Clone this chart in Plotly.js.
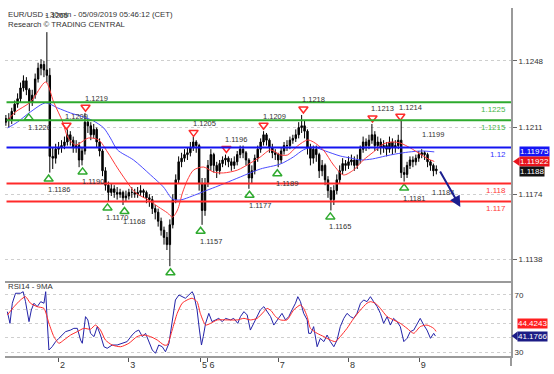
<!DOCTYPE html>
<html><head><meta charset="utf-8">
<script src="https://cdn.plot.ly/plotly-3.0.1.min.js"></script>
<style>html,body{margin:0;padding:0;background:#fff}#chart{width:554px;height:374px}</style>
</head><body><div id="chart"></div>
<script>
// hour index: 0 = 2 May 00:00 (CET), weekend compressed
const barT = [-18,-17,-16,-15,-14,-13,-12,-11,-10,-9,-8,-7,-6,-5,-4,-3,-2,-1,0,1,
2,3,4,5,6,7,8,9,10,11,12,13,14,15,16,17,18,19,20,21,22,23,24,25,26,27,28,29,30,31,
32,33,34,35,36,37,38,39,40,41,42,43,44,45,46,47,48,49,50,51,52,53,54,55,56,57,58,59,60,61,
62,63,64,65,66,67,68,69,70,71,72,73,74,75,76,77,78,79,80,81,82,83,84,85,86,87,88,89,90,91,
92,93,94,95,96,97,98,99,100,101,102,103,104,105,106,107,108,109,110,111,
112,113,114,115,116,117,118,119,120,121,122,123,124,125,126,127,128,129];
const openP = [1.1214,1.1216,1.1215,1.1220,1.1224,1.1227,1.1233,1.1237,1.1232,1.1225,
1.1229,1.1238,1.1244,1.1246,1.1243,1.1240,1.1195,1.1194,1.1199,1.1200,
1.1201,1.1203,1.1207,1.1204,1.1200,1.1201,1.1193,1.1198,1.1214,1.1212,
1.1207,1.1210,1.1203,1.1198,1.1187,1.1179,1.1175,1.1177,1.1175,1.1174,
1.1175,1.1172,1.1173,1.1175,1.1175,1.1174,1.1175,1.1176,1.1175,1.1172,
1.1171,1.1166,1.1164,1.1159,1.1154,1.1150,1.1146,1.1157,1.1171,1.1182,
1.1192,1.1194,1.1196,1.1197,1.1200,1.1203,1.1201,1.1180,1.1165,1.1180,
1.1190,1.1196,1.1190,1.1187,1.1191,1.1193,1.1194,1.1192,1.1190,1.1192,
1.1196,1.1199,1.1197,1.1193,1.1183,1.1187,1.1194,1.1199,1.1203,1.1207,
1.1204,1.1200,1.1197,1.1196,1.1193,1.1198,1.1201,1.1201,1.1204,1.1205,
1.1207,1.1211,1.1212,1.1209,1.1200,1.1194,1.1199,1.1196,1.1187,1.1190,
1.1182,1.1176,1.1171,1.1176,1.1182,1.1187,1.1191,1.1190,1.1192,1.1193,
1.1190,1.1193,1.1199,1.1203,1.1201,1.1204,1.1207,1.1201,1.1203,1.1200,
1.1201,1.1199,1.1203,1.1200,1.1201,1.1204,1.1186,1.1185,1.1190,1.1193,
1.1192,1.1194,1.1196,1.1197,1.1196,1.1192,1.1190,1.1187];
const highP = [1.1218,1.1219,1.1222,1.1226,1.1230,1.1236,1.1240,1.1239,1.1233,1.1232,
1.1241,1.1247,1.1249,1.1248,1.1264,1.1244,1.1200,1.1202,1.1203,1.1204,
1.1206,1.1210,1.1209,1.1206,1.1204,1.1203,1.1200,1.1219,1.1216,1.1214,
1.1213,1.1211,1.1205,1.1199,1.1189,1.1181,1.1180,1.1179,1.1178,1.1177,
1.1176,1.1176,1.1177,1.1178,1.1177,1.1178,1.1179,1.1177,1.1176,1.1174,
1.1173,1.1168,1.1166,1.1161,1.1156,1.1153,1.1160,1.1174,1.1185,1.1195,
1.1197,1.1199,1.1200,1.1203,1.1206,1.1204,1.1202,1.1183,1.1183,1.1193,
1.1199,1.1197,1.1192,1.1193,1.1195,1.1196,1.1195,1.1194,1.1195,1.1198,
1.1201,1.1201,1.1198,1.1194,1.1190,1.1196,1.1201,1.1205,1.1209,1.1208,
1.1205,1.1202,1.1199,1.1197,1.1200,1.1203,1.1204,1.1206,1.1207,1.1210,
1.1214,1.1218,1.1215,1.1210,1.1202,1.1201,1.1201,1.1197,1.1193,1.1191,
1.1184,1.1178,1.1179,1.1185,1.1190,1.1194,1.1193,1.1195,1.1196,1.1195,
1.1196,1.1201,1.1206,1.1205,1.1207,1.1213,1.1209,1.1206,1.1205,1.1204,
1.1203,1.1206,1.1205,1.1204,1.1207,1.1215,1.1189,1.1192,1.1195,1.1195,
1.1196,1.1198,1.1199,1.1198,1.1197,1.1193,1.1191,1.1190];
const lowP = [1.1212,1.1211,1.1213,1.1218,1.1222,1.1225,1.1231,1.1229,1.1220,1.1223,
1.1227,1.1236,1.1240,1.1239,1.1236,1.1186,1.1188,1.1191,1.1196,1.1197,
1.1199,1.1201,1.1201,1.1197,1.1197,1.1189,1.1190,1.1196,1.1208,1.1204,
1.1205,1.1200,1.1195,1.1184,1.1176,1.1170,1.1173,1.1172,1.1171,1.1172,
1.1168,1.1170,1.1171,1.1172,1.1172,1.1172,1.1173,1.1172,1.1169,1.1167,
1.1163,1.1160,1.1156,1.1151,1.1146,1.1143,1.1134,1.1155,1.1169,1.1180,
1.1189,1.1192,1.1193,1.1195,1.1198,1.1197,1.1176,1.1157,1.1162,1.1178,
1.1187,1.1186,1.1183,1.1185,1.1189,1.1190,1.1189,1.1187,1.1188,1.1190,
1.1194,1.1194,1.1190,1.1177,1.1180,1.1185,1.1192,1.1197,1.1201,1.1201,
1.1197,1.1194,1.1193,1.1189,1.1191,1.1196,1.1198,1.1199,1.1202,1.1203,
1.1205,1.1208,1.1205,1.1196,1.1190,1.1191,1.1192,1.1183,1.1184,1.1179,
1.1172,1.1165,1.1168,1.1174,1.1180,1.1185,1.1187,1.1188,1.1190,1.1187,
1.1188,1.1191,1.1197,1.1198,1.1199,1.1202,1.1198,1.1198,1.1196,1.1197,
1.1195,1.1197,1.1196,1.1197,1.1199,1.1183,1.1181,1.1183,1.1188,1.1189,
1.1190,1.1192,1.1194,1.1193,1.1189,1.1187,1.1184,1.1185];
const closeP = [1.1216,1.1215,1.1220,1.1224,1.1227,1.1233,1.1237,1.1232,1.1225,1.1229,
1.1238,1.1244,1.1246,1.1243,1.1240,1.1195,1.1194,1.1199,1.1200,1.1201,
1.1203,1.1207,1.1204,1.1200,1.1201,1.1193,1.1198,1.1214,1.1212,1.1207,
1.1210,1.1203,1.1198,1.1187,1.1179,1.1175,1.1177,1.1175,1.1174,1.1175,
1.1172,1.1173,1.1175,1.1175,1.1174,1.1175,1.1176,1.1175,1.1172,1.1171,
1.1166,1.1164,1.1159,1.1154,1.1150,1.1146,1.1157,1.1171,1.1182,1.1192,
1.1194,1.1196,1.1197,1.1200,1.1203,1.1201,1.1180,1.1165,1.1180,1.1190,
1.1196,1.1190,1.1187,1.1191,1.1193,1.1194,1.1192,1.1190,1.1192,1.1196,
1.1199,1.1197,1.1193,1.1183,1.1187,1.1194,1.1199,1.1203,1.1207,1.1204,
1.1200,1.1197,1.1196,1.1193,1.1198,1.1201,1.1201,1.1204,1.1205,1.1207,
1.1211,1.1212,1.1209,1.1200,1.1194,1.1199,1.1196,1.1187,1.1190,1.1182,
1.1176,1.1171,1.1176,1.1182,1.1187,1.1191,1.1190,1.1192,1.1193,1.1190,
1.1193,1.1199,1.1203,1.1201,1.1204,1.1207,1.1201,1.1203,1.1200,1.1201,
1.1199,1.1203,1.1200,1.1201,1.1204,1.1186,1.1185,1.1190,1.1193,1.1192,
1.1194,1.1196,1.1197,1.1196,1.1192,1.1190,1.1187,1.1188];

// moving averages
const maFastT = [-17.4,-14.7,-9.6,-4.4,-1.7,1.4,3.1,5.8,10.2,13.7,16.7,20.1,22.9,26.3,30.7,34.1,37.2,38.9,40.6,42.3,44.0,46.1,49.5,52.9,56.3,61.1,65.5,68.9,72.4,75.8,78.2,81.6,85.0,87.0,90.4,93.9,97.3,100.7,104.1,107.5,110.9,114.3,116.7,120.1,123.5,126.3,128.3];
const maFastV = [1.12152,1.12197,1.12252,1.12363,1.12252,1.12141,1.12058,1.12013,1.12052,1.12041,1.11974,1.11886,1.11819,1.11747,1.11708,1.11669,1.11636,1.11613,1.11652,1.11747,1.11819,1.11874,1.11891,1.11863,1.11858,1.11874,1.11913,1.11947,1.11986,1.11958,1.11958,1.12008,1.12041,1.12030,1.11986,1.11902,1.11847,1.11874,1.11930,1.11974,1.12019,1.12030,1.12024,1.11997,1.11963,1.11935,1.11922];
const maSlowT = [-17.4,-14.0,-9.6,-4.4,-0.3,4.1,8.5,11.9,15.4,17.7,20.1,25.6,31.4,35.8,38.9,41.6,45.7,49.1,53.6,57.0,62.1,68.9,75.8,80.2,83.6,87.0,91.1,96.2,99.7,103.1,107.2,111.6,115.0,119.5,124.2,128.3];
const maSlowV = [1.12108,1.12141,1.12197,1.12247,1.12219,1.12191,1.12169,1.12147,1.12108,1.12052,1.11986,1.11930,1.11847,1.11780,1.11713,1.11708,1.11730,1.11752,1.11780,1.11802,1.11836,1.11880,1.11908,1.11947,1.11986,1.12002,1.11980,1.11952,1.11941,1.11930,1.11936,1.11952,1.11963,1.11974,1.11980,1.11975];

// RSI(14) and its 9-period MA
const rsiT = [-17.5,-16.6,-15.8,-14.7,-13.0,-12.1,-11.3,-10.1,-9.3,-8.4,-7.3,-6.1,-5.0,-4.4,-3.9,-3.3,-2.2,-1.0,0.1,1.3,2.4,4.1,5.2,6.4,7.5,8.1,8.6,9.2,10.0,10.9,12.1,13.2,14.3,15.5,16.6,18.3,20.0,21.7,23.4,25.1,26.3,27.4,28.6,29.7,30.8,32.0,33.1,34.2,35.4,36.5,37.7,38.8,39.9,41.1,42.2,43.3,44.5,45.6,46.2,47.3,48.1,48.8,49.4,50.2,51.3,52.4,53.6,54.7,55.9,57.0,58.7,59.8,61.2,62.1,63.3,64.4,65.5,66.7,67.8,68.9,70.1,71.2,72.4,73.5,74.6,76.3,77.5,78.6,79.7,80.9,81.7,82.6,83.7,84.9,85.4,86.2,87.1,88.3,89.4,90.6,91.7,92.8,94.0,95.1,96.2,97.4,98.5,99.7,100.8,101.9,103.1,104.2,105.3,106.5,107.6,108.8,109.9,111.0,112.2,113.3,114.4,115.6,116.7,117.9,119.0,120.1,121.3,122.4,123.5,124.7,125.8,127.0,128.1,128.7];
const rsiV = [58.3,50.1,64.2,71.2,71.2,72.3,65.3,51.3,59.5,64.2,61.8,65.3,64.2,72.3,52.5,31.4,33.7,37.3,39.6,41.9,44.3,45.4,46.6,46.6,38.4,36.1,46.6,54.8,52.5,43.1,40.8,47.8,41.9,33.7,32.6,34.9,34.9,36.1,37.3,41.9,44.3,45.4,40.8,43.1,37.3,31.4,29.1,34.9,33.7,30.2,36.1,50.1,66.5,70.0,68.8,67.7,70.0,72.3,70.0,59.5,45.4,34.9,40.8,50.1,57.1,51.3,52.5,53.6,51.3,53.6,52.5,53.6,50.1,54.8,58.3,56.0,45.4,50.1,54.8,59.5,61.8,58.3,54.8,48.9,52.5,57.1,52.5,54.8,59.5,64.2,68.8,65.3,57.1,52.5,43.1,43.1,47.8,33.7,39.6,37.3,41.9,37.3,33.7,38.4,47.8,53.6,57.1,54.8,53.6,57.1,64.2,66.5,65.3,68.8,65.3,61.8,57.1,50.1,54.8,48.9,53.6,51.3,47.8,37.3,39.6,44.3,45.4,50.1,53.6,48.9,45.4,39.6,43.1,41.1766];
const rsiMaT = [-17.5,-15.2,-13.0,-11.3,-9.6,-7.3,-5.0,-3.3,-1.6,0.1,1.8,4.1,6.4,8.6,10.9,12.6,14.3,16.0,18.3,21.2,24.0,26.8,29.1,31.4,33.7,36.0,37.1,38.8,40.5,42.2,43.9,45.6,47.3,48.4,50.2,51.9,54.2,57.6,61.0,63.3,65.5,67.8,70.1,71.2,72.6,74.1,75.8,78.0,80.3,82.6,83.7,84.9,86.0,88.3,90.6,92.8,94.5,96.2,98.5,100.8,103.1,105.3,106.5,108.2,109.9,112.2,114.4,116.7,119.0,121.3,123.5,125.8,128.1,128.9];
const rsiMaV = [56.0,61.8,66.5,68.8,64.2,61.8,60.6,50.1,40.8,36.1,38.4,41.9,44.3,46.6,46.0,48.9,45.4,38.4,34.9,33.7,36.1,40.8,41.9,40.8,38.4,34.9,34.9,45.4,57.1,64.2,66.5,67.7,65.3,57.1,48.9,50.1,52.5,52.5,52.5,53.6,52.5,53.6,58.3,60.6,58.9,54.8,52.5,52.5,59.5,63.0,60.6,54.8,46.6,43.1,40.8,38.4,37.3,40.8,46.6,53.6,59.5,64.2,65.3,64.2,60.6,54.8,52.5,50.1,46.6,43.1,47.8,48.9,46.6,44.4243];

// support / resistance levels
const levelVals = [1.1225, 1.1215, 1.1200, 1.1180, 1.1170];
const levelText = ['1.1225', '1.1215', '1.12', '1.118', '1.117'];
// fractal highs / lows (label = price)
const highT = [2.7, 9.2, 46.1, 57.3, 70.0, 83.6, 107.2, 116.7];
const highVal = [1.1209, 1.1219, 1.1205, 1.1196, 1.1209, 1.1218, 1.1213, 1.1214];
const lowT = [-10.2, -3.4, 8.2, 16.7, 22.5, 48.5, 65.2, 74.7, 92.8, 118.0];
const lowVal = [1.1220, 1.1186, 1.1190, 1.1170, 1.1168, 1.1157, 1.1177, 1.1189, 1.1165, 1.1181];
const spikeLowT = [38.2], spikeLowVal = [1.1134];
const pendHighT = [-4.4, 124.6], pendHighVal = [1.1265, 1.1199];
const pendLowT = [128.0], pendLowVal = [1.1184];
// axes
const dayTicks = [0, 24, 48.5, 51, 75, 99, 123.2];
const dayText = ['2', '3', '5', '6', '7', '8', '9'];
const priceTicks = [1.1138, 1.1174, 1.1211, 1.1248];
const priceTickText = ['1.1138', '1.1174', '1.1211', '1.1248'];
// last values
const lastSlowMA = 1.11975, lastFastMA = 1.11922, lastClose = 1.1188;
const lastRsiMA = 44.4243, lastRsi = 41.1766;
// forecast arrow
const arrowFrom = [130.0, 1.11874], arrowTo = [137.2, 1.11669];

// ---- layout geometry ----
const W = 554, H = 374, ML = 5, MR = 43, MT = 8, MB = 18;
const plotW = W - ML - MR, plotH = H - MT - MB;
const rsiPx = 75;
const split = rsiPx / plotH;
const xRange = [-18.3, 154.5];
const yRange = [1.11258, 1.12774];
const rRange = [27.2, 79.8];
const mainPx = plotH - rsiPx;
const pxPerPrice = mainPx / (yRange[1] - yRange[0]);
const pxPerRsi = rsiPx / (rRange[1] - rRange[0]);
const pyPrice = p => MT + (yRange[1] - p) * pxPerPrice;
const pyRsi = v => MT + mainPx + (rRange[1] - v) * pxPerRsi;
const paperX = px => (px - ML) / plotW;
const paperY = py => (H - MB - py) / plotH;

const FONT = 'Liberation Sans, Arial, sans-serif';
const RED = '#ff2a2a', GREEN = '#2eaa2e', BLUE = '#1414f0';

const traces = [];
traces.push({
  type: 'candlestick', x: barT, open: openP, high: highP, low: lowP, close: closeP,
  xaxis: 'x', yaxis: 'y', whiskerwidth: 0, hoverinfo: 'skip', showlegend: false,
  increasing: {line: {color: '#000', width: 1}, fillcolor: '#000'},
  decreasing: {line: {color: '#000', width: 1}, fillcolor: '#000'}
});
traces.push({type: 'scatter', mode: 'lines', x: maSlowT, y: maSlowV, xaxis: 'x', yaxis: 'y',
  line: {color: '#4b4bff', width: 1, shape: 'spline', smoothing: 0.8}, hoverinfo: 'skip', showlegend: false});
traces.push({type: 'scatter', mode: 'lines', x: maFastT, y: maFastV, xaxis: 'x', yaxis: 'y',
  line: {color: '#ff3b3b', width: 1, shape: 'spline', smoothing: 0.8}, hoverinfo: 'skip', showlegend: false});
// fractal markers
const upOff = 6 / pxPerPrice, dnOff = 6.5 / pxPerPrice;
traces.push({type: 'scatter', mode: 'markers', x: highT, y: highVal.map(v => v + upOff), xaxis: 'x', yaxis: 'y',
  marker: {symbol: 'triangle-down-open', size: 8, color: RED, line: {width: 1.5, color: RED}}, hoverinfo: 'skip', showlegend: false});
traces.push({type: 'scatter', mode: 'markers', x: lowT.concat(spikeLowT), y: lowVal.concat(spikeLowVal).map(v => v - dnOff), xaxis: 'x', yaxis: 'y',
  marker: {symbol: 'triangle-up-open', size: 8, color: GREEN, line: {width: 1.5, color: GREEN}}, hoverinfo: 'skip', showlegend: false});
// RSI
traces.push({type: 'scatter', mode: 'lines', x: rsiT, y: rsiV, xaxis: 'x2', yaxis: 'y2',
  line: {color: '#2323a8', width: 1}, hoverinfo: 'skip', showlegend: false});
traces.push({type: 'scatter', mode: 'lines', x: rsiMaT, y: rsiMaV, xaxis: 'x2', yaxis: 'y2',
  line: {color: '#ff2a2a', width: 1, shape: 'spline', smoothing: 0.6}, hoverinfo: 'skip', showlegend: false});

const shapes = [];
const levelColors = [GREEN, GREEN, BLUE, RED, RED];
levelVals.forEach((v, i) => shapes.push({type: 'line', xref: 'paper', yref: 'y', x0: 0.003, x1: 1, y0: v, y1: v,
  line: {color: levelColors[i], width: 2}}));
// right-hand axis extension below the RSI panel
shapes.push({type: 'line', xref: 'paper', yref: 'paper', x0: 1, x1: 1, y0: paperY(H - 8), y1: 0, line: {color: '#9a9a9a', width: 2}});
// pointer tips of value boxes
function pointer(py, color, tipPx, basePx) {
  const h = 4.5;
  return {type: 'path', xref: 'paper', yref: 'paper', fillcolor: color, line: {width: 0},
    path: `M ${paperX(tipPx)} ${paperY(py)} L ${paperX(basePx)} ${paperY(py - h)} L ${paperX(basePx)} ${paperY(py + h)} Z`};
}
shapes.push(pointer(pyPrice(lastFastMA), '#e8141c', 513, 519.5));
shapes.push(pointer(pyRsi(lastRsi), '#1c1c86', 511.5, 517.5));

const ann = [];
const lblFont = {family: FONT, size: 7.5, color: '#333'};
ann.push({xref: 'paper', yref: 'paper', x: 0, y: paperY(14), xanchor: 'left', yanchor: 'middle', xshift: 1, showarrow: false,
  text: 'EUR/USD - 30min - 05/09/2019 05:46:12 (CET)', font: {family: FONT, size: 7.8, color: '#333'}});
ann.push({xref: 'paper', yref: 'paper', x: 0, y: paperY(24), xanchor: 'left', yanchor: 'middle', xshift: 1, showarrow: false,
  text: 'Research © TRADING CENTRAL', font: {family: FONT, size: 7.8, color: '#333'}});
ann.push({xref: 'paper', yref: 'paper', x: 0, y: paperY(286), xanchor: 'left', yanchor: 'middle', xshift: 1, showarrow: false,
  text: 'RSI14 - 9MA', font: {family: FONT, size: 7.8, color: '#333'}});
highT.concat(pendHighT).forEach((t, i) => {
  const v = highVal.concat(pendHighVal)[i];
  ann.push({xref: 'x', yref: 'y', x: t, y: v, xanchor: 'left', yanchor: 'middle', xshift: -3, yshift: 15,
    showarrow: false, text: v.toFixed(4), font: lblFont});
});
lowT.concat(pendLowT).forEach((t, i) => {
  const v = lowVal.concat(pendLowVal)[i];
  ann.push({xref: 'x', yref: 'y', x: t, y: v, xanchor: 'left', yanchor: 'middle', xshift: -3, yshift: -16.5,
    showarrow: false, text: v.toFixed(4), font: lblFont});
});
const levelLblColors = ['#49b649', '#49b649', '#3434ff', '#ff3a3a', '#ff3a3a'];
levelVals.forEach((v, i) => ann.push({xref: 'paper', yref: 'y', x: 1, y: v, xanchor: 'right', yanchor: 'top',
  xshift: -3, yshift: -1, showarrow: false, text: levelText[i], font: {family: FONT, size: 8, color: levelLblColors[i]}}));
function box(yref, y, text, bg, xs, ys) {
  return {xref: 'paper', yref: yref, x: 1, y: y, xanchor: 'left', yanchor: 'middle', xshift: xs, yshift: ys,
    showarrow: false, text: text, bgcolor: bg, borderpad: 0, font: {family: FONT, size: 8, color: '#fff'}};
}
ann.push(box('y', lastSlowMA, lastSlowMA.toFixed(5), '#1515f5', 8, 0));
ann.push(box('y', lastFastMA, lastFastMA.toFixed(5), '#e8141c', 8, 0));
ann.push(box('y', lastClose, lastClose.toFixed(4), '#111', 8, -3));
ann.push(box('y2', lastRsiMA, lastRsiMA.toFixed(4), '#ff2020', 6, 7.5));
ann.push(box('y2', lastRsi, lastRsi.toFixed(4), '#1c1c86', 6, 0));
ann.push({xref: 'x', yref: 'y', axref: 'x', ayref: 'y', x: arrowTo[0], y: arrowTo[1], ax: arrowFrom[0], ay: arrowFrom[1],
  showarrow: true, arrowhead: 2, arrowsize: 1.1, arrowwidth: 2, arrowcolor: '#1b1f8f', text: ''});

const gridCommon = {showgrid: true, gridcolor: '#cfcfcf', griddash: 'dot', gridwidth: 1};
const layout = {
  width: W, height: H, margin: {l: ML, r: MR, t: MT, b: MB, pad: 0},
  paper_bgcolor: '#fff', plot_bgcolor: '#fff', showlegend: false, dragmode: false,
  xaxis: {domain: [0, 1], anchor: 'y', range: xRange, showticklabels: false, ticks: '', showgrid: false, zeroline: false,
    showline: true, linecolor: '#9a9a9a', linewidth: 2, rangeslider: {visible: false}, fixedrange: true},
  yaxis: Object.assign({domain: [split, 1], anchor: 'x', side: 'right', range: yRange, tickvals: priceTicks, ticktext: priceTickText,
    ticks: 'outside', ticklen: 4, tickcolor: '#666', tickfont: {family: FONT, size: 8, color: '#333'},
    showline: true, linecolor: '#9a9a9a', linewidth: 2, zeroline: false, fixedrange: true}, gridCommon),
  xaxis2: {domain: [0, 1], anchor: 'y2', range: xRange, tickvals: dayTicks, ticktext: dayText, ticks: 'outside', ticklen: 4,
    tickcolor: '#555', tickfont: {family: FONT, size: 9, color: '#333'}, ticklabelshift: 4, ticklabelstandoff: -5,
    showgrid: false, zeroline: false, showline: true, linecolor: '#9a9a9a', linewidth: 2, fixedrange: true},
  yaxis2: Object.assign({domain: [0, split], anchor: 'x2', side: 'right', range: rRange, tickvals: [30, 40, 50, 60, 70],
    ticktext: ['30', '', '', '', '70'], ticks: '', tickfont: {family: FONT, size: 8, color: '#333'},
    showline: true, linecolor: '#9a9a9a', linewidth: 2, zeroline: false, fixedrange: true}, gridCommon),
  shapes: shapes, annotations: ann
};
Plotly.newPlot('chart', traces, layout, {displayModeBar: false, staticPlot: true});
</script></body></html>
